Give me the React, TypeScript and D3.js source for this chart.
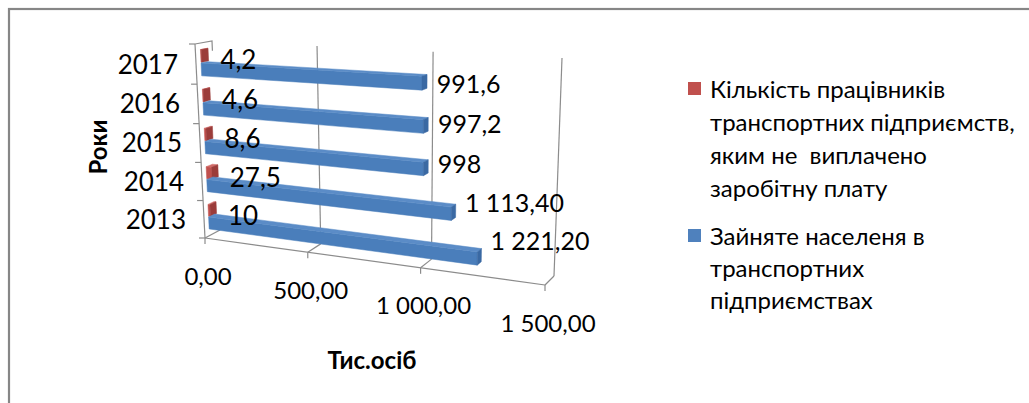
import React, { useEffect, useRef } from "react";
import * as d3 from "d3";

const years = ["2013", "2014", "2015", "2016", "2017"];
const unpaid = [10, 27.5, 8.6, 4.6, 4.2];
const unpaidLabels = ["10", "27,5", "8,6", "4,6", "4,2"];
const employed = [1221.2, 1113.4, 998, 997.2, 991.6];
const employedLabels = ["1 221,20", "1 113,40", "998", "997,2", "991,6"];
const valueTicks = [0, 500, 1000, 1500];
const valueTickLabels = ["0,00", "500,00", "1 000,00", "1 500,00"];
const legendRed = ["Кількість працівників", "транспортних підприємств,", "яким не  виплачено", "заробітну плату"];
const legendBlue = ["Зайняте населеня в", "транспортних", "підприємствах"];

type P = [number, number];

// square -> quad homography (corners: 00, 10, 11, 01)
function quadMap(p00: P, p10: P, p11: P, p01: P) {
  const [x0, y0] = p00, [x1, y1] = p10, [x2, y2] = p11, [x3, y3] = p01;
  const dx1 = x1 - x2, dx2 = x3 - x2, dx3 = x0 - x1 + x2 - x3;
  const dy1 = y1 - y2, dy2 = y3 - y2, dy3 = y0 - y1 + y2 - y3;
  const den = dx1 * dy2 - dx2 * dy1;
  const g = (dx3 * dy2 - dx2 * dy3) / den;
  const h = (dx1 * dy3 - dx3 * dy1) / den;
  const a = x1 - x0 + g * x1, b = x3 - x0 + h * x3, c = x0;
  const d = y1 - y0 + g * y1, e = y3 - y0 + h * y3, f = y0;
  return (u: number, w: number): P => {
    const q = g * u + h * w + 1;
    return [(a * u + b * w + c) / q, (d * u + e * w + f) / q];
  };
}

const front = quadMap([205, 238], [545, 285], [551, 62], [195, 44]);
const back = quadMap([220, 230], [554, 276], [562, 58], [212, 41]);

const FONT = "Lato, 'Open Sans', sans-serif";

export default function App() {
  const ref = useRef<SVGSVGElement>(null);

  useEffect(() => {
    const svg = d3.select(ref.current);
    svg.selectAll("*").remove();

    const xScale = d3.scaleLinear().domain([0, 1500]).range([0, 1]);
    const yScale = d3.scaleBand<string>().domain(years).range([0, 1]);
    const bw = yScale.bandwidth();

    const project = (v: number, c: number, z: number): P => {
      const u = xScale(v);
      const f = front(u, c), b = back(u, c);
      return [f[0] + (b[0] - f[0]) * z, f[1] + (b[1] - f[1]) * z];
    };
    const line = d3.line();

    svg.append("rect").attr("x", 9).attr("y", 9).attr("width", 1100).attr("height", 500)
      .attr("fill", "#fff").attr("stroke", "#868686").attr("stroke-width", 2.2);

    const grid = svg.append("g").attr("stroke", "#8c8c8c").attr("stroke-width", 1.2).attr("fill", "none");
    valueTicks.forEach((v) => {
      if (v > 0) grid.append("path").attr("d", line([project(v, 0, 1), project(v, 1, 1)]));
      grid.append("path").attr("d", line([project(v, 0, 0), project(v, 0, 1)]));
      const p = project(v, 0, 0);
      grid.append("path").attr("d", line([p, [p[0], p[1] + 6]]));
    });
    grid.append("path").attr("d", line([project(0, 0, 0), project(1500, 0, 0)]));
    grid.append("path").attr("d", line([project(0, 0, 0), project(0, 1, 0)]));
    grid.append("path").attr("d", line([project(0, 1, 0), project(0, 1, 1), project(0, 0.95, 1)]));
    d3.range(0, 6).forEach((k) => {
      const p = project(0, k * bw, 0);
      grid.append("path").attr("d", line([[p[0] - 6, p[1]], p]));
    });

    const bars = svg.append("g");
    const z0 = 0.3, z1 = 0.7;
    const drawBox = (val: number, c0: number, c1: number, cols: string[]) => {
      const faces: P[][] = [
        [project(0, c0, z0), project(val, c0, z0), project(val, c1, z0), project(0, c1, z0)],
        [project(0, c1, z0), project(val, c1, z0), project(val, c1, z1), project(0, c1, z1)],
        [project(val, c0, z0), project(val, c0, z1), project(val, c1, z1), project(val, c1, z0)],
      ];
      faces.forEach((pts, i) => {
        bars.append("path").attr("d", line(pts) + "Z").attr("fill", cols[i])
          .attr("stroke", cols[i]).attr("stroke-width", 0.5);
      });
    };

    const order = d3.range(years.length).reverse();
    order.forEach((i) => {
      const b = yScale(years[i]) as number;
      drawBox(unpaid[i], b + 0.52 * bw, b + 0.84 * bw, ["#C0504D", "#D06A67", "#9B3C3A"]);
      drawBox(employed[i], b + 0.18 * bw, b + 0.5 * bw, ["#4A7EBB", "#5B8CC7", "#3A69A3"]);
    });

    const labels = svg.append("g").attr("font-family", FONT).attr("fill", "#000");
    years.forEach((y, i) => {
      const b = yScale(y) as number;
      const p = project(0, b + bw / 2, 0);
      labels.append("text").attr("x", p[0] - 18).attr("y", p[1]).attr("dy", "0.36em")
        .attr("text-anchor", "end").attr("font-size", 26).text(y);
      const rx = project(unpaid[i], b + 0.67 * bw, 1)[0];
      const ry = project(unpaid[i], b + 0.67 * bw, 0)[1];
      labels.append("text").attr("x", rx + 7).attr("y", ry + 2).attr("dy", "0.36em")
        .attr("font-size", 26).text(unpaidLabels[i]);
      const qx = project(employed[i], b + 0.35 * bw, 1)[0];
      const qy = project(300, b + 0.35 * bw, 0.5)[1] + 12;
      labels.append("text").attr("x", qx + 6).attr("y", qy).attr("dy", "0.36em")
        .attr("font-size", 25).text(employedLabels[i]);
    });
    valueTicks.forEach((v, i) => {
      const p = project(v, 0, 0);
      labels.append("text").attr("x", p[0] + 3).attr("y", p[1] + 38).attr("dy", "0.36em")
        .attr("text-anchor", "middle").attr("font-size", 24).text(valueTickLabels[i]);
    });

    labels.append("text").attr("transform", "translate(98,147) rotate(-90)").attr("dy", "0.36em")
      .attr("text-anchor", "middle").attr("font-size", 24).attr("font-weight", "bold").text("Роки");
    labels.append("text").attr("x", 372).attr("y", 360).attr("dy", "0.36em")
      .attr("text-anchor", "middle").attr("font-size", 24).attr("font-weight", "bold").text("Тис.осіб");

    const legend = svg.append("g").attr("font-family", FONT).attr("font-size", 24);
    legend.append("rect").attr("x", 688).attr("y", 82).attr("width", 13).attr("height", 13).attr("fill", "#C0504D");
    legendRed.forEach((t, k) => {
      legend.append("text").attr("x", 710).attr("y", 89 + k * 33).attr("dy", "0.36em")
        .style("white-space", "pre").text(t);
    });
    legend.append("rect").attr("x", 688).attr("y", 229).attr("width", 13).attr("height", 13).attr("fill", "#4F81BD");
    legendBlue.forEach((t, k) => {
      legend.append("text").attr("x", 710).attr("y", 236 + k * 32).attr("dy", "0.36em")
        .style("white-space", "pre").text(t);
    });
  }, []);

  return (
    <svg ref={ref} width={1029} height={403}
      style={{ position: "fixed", left: 0, top: 0, background: "#fff" }} />
  );
}
